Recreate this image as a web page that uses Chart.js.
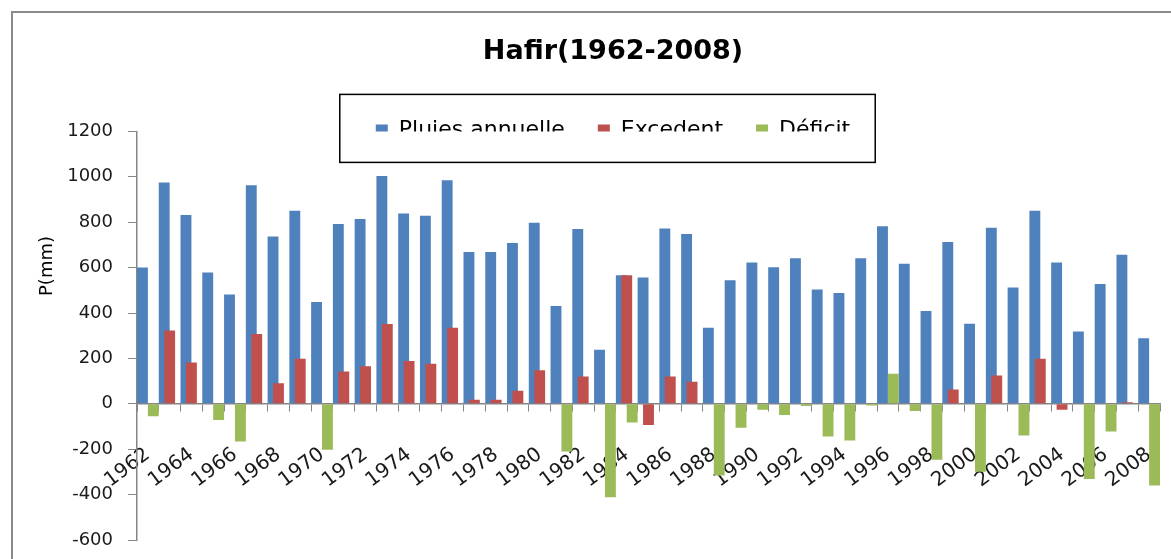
<!DOCTYPE html>
<html lang="fr">
<head>
    <meta charset="UTF-8">
    <title>Hafir(1962-2008)</title>
    <style>
        body { margin: 0; background: #fff; overflow: hidden; }
        #wrap { position: relative; width: 1171px; height: 559px; }
        #frame {
            position: absolute; left: 11px; top: 11px;
            width: 1300px; height: 700px;
            border: 2px solid #8a8a8a;
            pointer-events: none;
        }
    </style>
</head>
<body>
    <div id="wrap">
        <canvas id="hafir" width="1171" height="559"></canvas>
        <div id="frame"></div>
    </div>

    <script src="https://cdn.jsdelivr.net/npm/chart.js"></script>

    <script>
        const years = [1962, 1963, 1964, 1965, 1966, 1967, 1968, 1969, 1970, 1971,
                       1972, 1973, 1974, 1975, 1976, 1977, 1978, 1979, 1980, 1981,
                       1982, 1983, 1984, 1985, 1986, 1987, 1988, 1989, 1990, 1991,
                       1992, 1993, 1994, 1995, 1996, 1997, 1998, 1999, 2000, 2001,
                       2002, 2003, 2004, 2005, 2006, 2007, 2008];

        // pluies annuelles (mm)
        const pluies = [600, 975, 832, 578, 482, 963, 737, 850, 448, 792,
                        814, 1003, 838, 828, 985, 669, 669, 708, 798, 431,
                        770, 238, 566, 556, 772, 748, 335, 544, 623, 601,
                        641, 504, 488, 641, 782, 617, 409, 713, 353, 776,
                        512, 850, 623, 319, 528, 657, 289];

        const excedent = [null, 323, 182, null, null, 307, 91, 198, null, 142,
                          165, 351, 188, 176, 335, 18, 18, 57, 148, null,
                          120, null, 566, -93, 120, 97, null, null, null, null,
                          null, null, null, null, null, null, null, 63, null, 125,
                          null, 198, -26, null, null, 7, null];

        const deficit = [-55, null, null, -71, -166, null, null, null, -202, null,
                         null, null, null, null, null, null, null, null, null, -210,
                         null, -412, -82, null, null, null, -316, -106, -26, -49,
                         -10, -144, -162, -8, 132, -32, -247, null, -299, null,
                         -140, null, null, -331, -122, null, -360];

        const font = 'DejaVu Sans';
        // Excel-style overlap: each series sits a quarter category from the next
        const shift = 0.25;
        const first = years[0] - 0.5;
        const last = years[years.length - 1] + 0.5;

        const hiddenAxis = (s) => ({
            type: 'linear', display: false, offset: false,
            min: first - s, max: last - s,
            grid: { display: false },
            ticks: { stepSize: 1 },
            afterFit: (axis) => { axis.paddingLeft = 0; axis.paddingRight = 0; }
        });

        // box around the legend + y axis title
        const extras = {
            id: 'extras',
            afterDraw(chart) {
                const ctx = chart.ctx;
                const hb = chart.legend.legendHitBoxes;
                const a = hb[0], b = hb[hb.length - 1];
                ctx.save();
                ctx.strokeStyle = '#000';
                ctx.lineWidth = 1.5;
                ctx.strokeRect(a.left - 36, a.top - 25, (b.left + b.width + 25) - (a.left - 36), a.height + 46);

                ctx.fillStyle = '#000';
                ctx.font = '18px "' + font + '"';
                ctx.textAlign = 'center';
                ctx.textBaseline = 'middle';
                ctx.translate(47, 266);
                ctx.rotate(-Math.PI / 2);
                ctx.fillText('P(mm)', 0, 0);
                ctx.restore();
            }
        };

        const barStyle = { borderWidth: 0, grouped: false, barPercentage: 0.5, categoryPercentage: 1 };

        const ctx = document.getElementById('hafir').getContext('2d');
        new Chart(ctx, {
            type: 'bar',
            data: {
                labels: years,
                datasets: [
                    { label: 'Pluies annuelle', data: pluies, xAxisID: 'xb', order: 2,
                      backgroundColor: '#4F81BD', ...barStyle },
                    { label: 'Excedent', data: excedent, xAxisID: 'xr', order: 0,
                      backgroundColor: '#C0504D', ...barStyle },
                    { label: 'Déficit', data: deficit, xAxisID: 'xg', order: 1,
                      backgroundColor: '#9BBB59', ...barStyle }
                ]
            },
            options: {
                responsive: false,
                animation: false,
                layout: { padding: { left: 66, right: 11, top: 0, bottom: 19 } },
                plugins: {
                    title: {
                        display: true,
                        text: 'Hafir(1962-2008)',
                        color: '#000',
                        font: { family: font, size: 27, weight: 'bold' },
                        padding: { top: 36, bottom: 18 }
                    },
                    legend: {
                        position: 'top',
                        maxHeight: 45,
                        labels: {
                            color: '#000',
                            font: { family: font, size: 22 },
                            boxWidth: 12,
                            boxHeight: 12,
                            padding: 33,
                            sort: (a, b) => a.datasetIndex - b.datasetIndex
                        }
                    },
                    tooltip: { enabled: false }
                },
                scales: {
                    x: {
                        type: 'category',
                        position: { y: 0 },
                        offset: true,
                        grid: { offset: true, drawOnChartArea: false, tickLength: 7, color: '#868686' },
                        border: { color: '#868686', width: 1.5 },
                        // rotated labels may run over the y axis, as in the original
                        afterFit: (axis) => { axis.paddingLeft = 0; axis.paddingRight = 0; },
                        ticks: {
                            autoSkip: false,
                            minRotation: 37,
                            maxRotation: 37,
                            padding: 32,
                            color: '#1a1a1a',
                            font: { family: font, size: 20 },
                            callback: function (v, i) {
                                return i % 2 === 0 ? this.getLabelForValue(v) : '';
                            }
                        }
                    },
                    xb: hiddenAxis(-shift),
                    xr: hiddenAxis(0),
                    xg: hiddenAxis(shift),
                    y: {
                        min: -600,
                        max: 1200,
                        grid: { drawOnChartArea: false, tickLength: 9, color: '#868686' },
                        border: { color: '#868686', width: 1.5 },
                        afterFit: (axis) => {
                            axis.width = 71;
                            axis.paddingTop = 0;
                            axis.paddingBottom = 0;
                        },
                        ticks: {
                            stepSize: 200,
                            padding: 15,
                            color: '#1a1a1a',
                            font: { family: font, size: 18 },
                            callback: (v) => String(v)
                        }
                    }
                }
            },
            plugins: [extras]
        });
    </script>
</body>
</html>
